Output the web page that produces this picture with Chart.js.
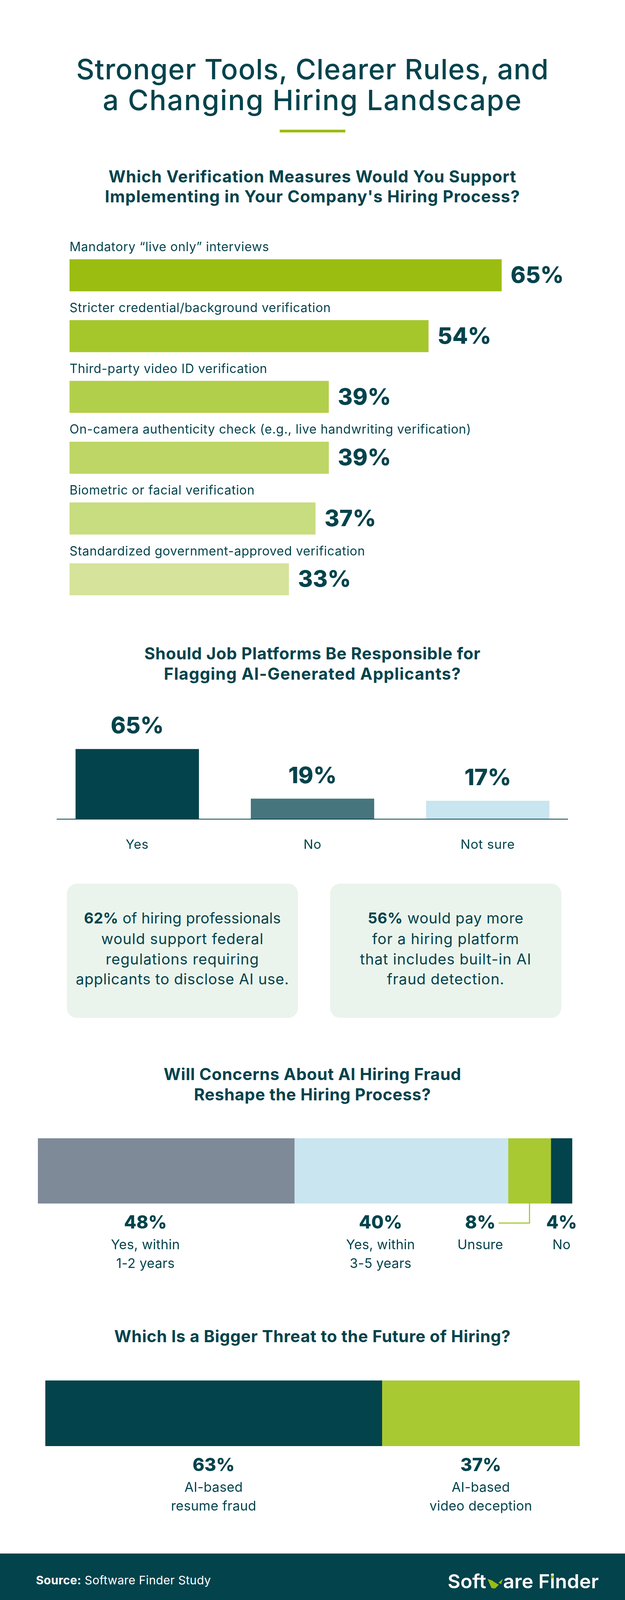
<!DOCTYPE html>
<html><head><meta charset="utf-8">
<script src="https://cdn.jsdelivr.net/npm/chart.js@4"></script>
<style>
html,body{margin:0;padding:0;background:#fff}
#page{position:relative;width:1600px;height:4118px;overflow:hidden;background:#fff}
canvas{position:absolute;left:0}
.t{position:absolute;white-space:nowrap;color:#03434c}
.box{position:absolute}
svg{position:absolute;left:0;top:0}
</style></head><body><div id="page"></div>
<script>
// ---- data ----
const measureLabels = ['Mandatory “live only” interviews','Stricter credential/background verification','Third-party video ID verification','On-camera authenticity check (e.g., live handwriting verification)','Biometric or facial verification','Standardized government-approved verification'];
const measureValues = [65,54,39,39,37,33];
const measureColors = ['#9bbd12','#a6c72c','#b2cf4b','#bdd665','#c8dc80','#d5e49a'];
const platformLabels = ['Yes','No','Not sure'];
const platformValues = [65,19,17];
const platformColors = ['#03434c','#47757d','#c9e5ef'];
const reshapeNames = [['Yes, within','1-2 years'],['Yes, within','3-5 years'],['Unsure'],['No']];
const reshapeValues = [48,40,8,4];
const reshapeColors = ['#7f8a99','#c9e5ef','#a8c932','#03434c'];
const threatNames = [['AI-based','resume fraud'],['AI-based','video deception']];
const threatValues = [63,37];
const threatColors = ['#03434c','#a8c932'];

const FONT='Inter, "Noto Sans", sans-serif';
const INK='#03434c';
const page=document.getElementById('page');
Chart.defaults.font.family=FONT;
Chart.defaults.color=INK;
Chart.defaults.animation=false;
Chart.defaults.responsive=false;
Chart.defaults.devicePixelRatio=1;
Chart.defaults.plugins.legend.display=false;
Chart.defaults.plugins.tooltip.enabled=false;

function box(l,t,w,h,bg,r){const d=document.createElement('div');d.className='box';
 d.style.cssText=`left:${l}px;top:${t}px;width:${w}px;height:${h}px;background:${bg};border-radius:${r||0}px`;page.appendChild(d);}
function text(html,o){const d=document.createElement('div');d.className='t';d.innerHTML=html;
 const lh=o.size*1.3;
 d.style.fontFamily=FONT;d.style.fontSize=o.size+'px';d.style.fontWeight=o.weight||400;d.style.lineHeight=lh+'px';
 d.style.color=o.color||INK;page.appendChild(d);
 d.style.top=(o.base-lh/2-0.3635*o.size)+'px';
 if(o.w){const n=d.textContent.length;const cur=d.getBoundingClientRect().width;d.style.letterSpacing=((o.w-cur)/n)+'px';}
 const w=d.getBoundingClientRect().width;
 d.style.left=(o.cx!==undefined?o.cx-w/2:o.x)+'px';}
function canvas(top,h){const c=document.createElement('canvas');c.width=1600;c.height=h;c.style.top=top+'px';c.style.width='1600px';c.style.height=h+'px';page.appendChild(c);return c;}
const spacing=px=>({id:'spacing',beforeDraw(ch){ch.ctx.letterSpacing=px+'px';}});

// headings
text('Stronger Tools, Clearer Rules, and',{cx:800,base:203,size:72,weight:500,w:1210});
text('a Changing Hiring Landscape',{cx:800,base:282,size:72,weight:500,w:1074});
box(716,332,168,7,'#9bbd12');
text('Which Verification Measures Would You Support',{cx:800,base:468,size:42,weight:700,w:1044});
text('Implementing in Your Company\'s Hiring Process?',{cx:800,base:519,size:42,weight:700,w:1063});
text('Should Job Platforms Be Responsible for',{cx:800,base:1689,size:42,weight:700,w:861});
text('Flagging AI-Generated Applicants?',{cx:800,base:1741,size:42,weight:700,w:761});
text('Will Concerns About AI Hiring Fraud',{cx:800,base:2766,size:42,weight:700,w:762});
text('Reshape the Hiring Process?',{cx:800,base:2818,size:42,weight:700,w:607});
text('Which Is a Bigger Threat to the Future of Hiring?',{cx:800,base:3437,size:42,weight:700,w:1015});

// cards
box(171,2262,592,344,'#ebf4ec',26);box(845,2262,592,344,'#ebf4ec',26);
const b=s=>`<b style="font-weight:700">${s}</b>`;
[[504,2365,b('62%')+' of hiring professionals'],[416,2418,'would support federal'],[393,2470,'regulations requiring'],[546,2521,'applicants to disclose AI use.']]
 .forEach(r=>text(r[2],{cx:467,base:r[1],size:38,w:r[0]}));
[[399,2365,b('56%')+' would pay more'],[377,2418,'for a hiring platform'],[439,2470,'that includes built-in AI'],[301,2521,'fraud detection.']]
 .forEach(r=>text(r[2],{cx:1141,base:r[1],size:38,w:r[0]}));

// footer
box(0,3977,1600,141,INK);
text(b('Source:')+' Software Finder Study',{x:92,base:4056,size:30,color:'#fff',w:448});
text('<span style="font-weight:600">Soft<span style="color:transparent">w</span>are Finder</span>',{x:1146,base:4067,size:50,color:'#fff',w:387});
page.insertAdjacentHTML('beforeend','<svg width="1600" height="4118" viewBox="0 0 1600 4118" fill="#9bbd12"><polygon points="1248,4042 1262,4047 1266,4067 1258,4065"/><polygon points="1257,4045 1277,4057 1267,4067"/><polygon points="1276,4052 1287,4042 1283,4055"/><circle cx="1414" cy="4037" r="3.7"/></svg>');

// chart 1: horizontal bars, category names are the y axis ticks lifted above each bar
const endLabels={id:'endLabels',afterDatasetsDraw(ch){const c=ch.ctx;c.save();c.letterSpacing='0px';c.font='800 58px '+FONT;c.fillStyle=INK;c.textBaseline='middle';c.textAlign='left';
 ch.getDatasetMeta(0).data.forEach((e,i)=>c.fillText(measureValues[i]+'%',e.x+23,e.y+2));c.restore();}};
new Chart(canvas(590,971),{type:'bar',plugins:[spacing(0.7),endLabels],
 data:{labels:measureLabels,datasets:[{data:measureValues,backgroundColor:measureColors,borderWidth:0,barPercentage:0.527,categoryPercentage:1}]},
 options:{indexAxis:'y',layout:{padding:{left:170,right:60.4,top:37,bottom:0}},
  scales:{x:{display:false,min:0,max:80},
   y:{border:{display:false},grid:{display:false},ticks:{mirror:true,padding:0,labelOffset:-71,autoSkip:false,color:INK,font:{size:32,weight:400,lineHeight:0.01}}}}}});

// chart 2: vertical bars
const topLabels={id:'topLabels',afterDatasetsDraw(ch){const c=ch.ctx,y0=ch.scales.y.getPixelForValue(0);c.save();c.letterSpacing='0px';c.font='800 58px '+FONT;c.fillStyle=INK;c.textBaseline='alphabetic';c.textAlign='center';
 ch.getDatasetMeta(0).data.forEach((e,i)=>c.fillText(platformValues[i]+'%',e.x,e.y-40));
 c.strokeStyle=INK;c.lineWidth=2;c.beginPath();c.moveTo(145,y0);c.lineTo(1454,y0);c.stroke();c.restore();}};
new Chart(canvas(1800,400),{type:'bar',plugins:[spacing(0.8),topLabels],
 data:{labels:platformLabels,datasets:[{data:platformValues,backgroundColor:platformColors,borderWidth:0,barPercentage:0.704,categoryPercentage:1}]},
 options:{layout:{padding:{left:127,right:127,top:76,bottom:0}},
  scales:{y:{display:false,min:0,max:80},
   x:{afterFit(s){s.height=103;},border:{display:false},grid:{display:false},ticks:{padding:38,autoSkip:false,maxRotation:0,color:INK,font:{size:33,weight:400}}}}}});

// stacked single bars with labels under the segments
function stacked(top,barH,h,left,names,values,colors,shifts,connector){
 const under={id:'under',afterDatasetsDraw(ch){const c=ch.ctx;c.save();c.fillStyle=INK;c.textAlign='center';c.textBaseline='alphabetic';
  ch.data.datasets.forEach((ds,i)=>{const e=ch.getDatasetMeta(i).data[0];const x=(e.x+e.base)/2+shifts[i],bot=e.y+e.height/2;
   c.font='800 46px '+FONT;c.letterSpacing='0px';c.fillText(values[i]+'%',x,bot+64);
   c.font='400 34px '+FONT;c.letterSpacing='0.3px';names[i].forEach((l,k)=>c.fillText(l,x,bot+117+k*48));
   if(connector===i){const cx=(e.x+e.base)/2;c.strokeStyle=colors[i];c.lineWidth=3;c.beginPath();c.moveTo(cx,bot);c.lineTo(cx,bot+50);c.lineTo(cx-79,bot+50);c.stroke();}
  });c.restore();}};
 new Chart(canvas(top,h),{type:'bar',plugins:[under],
  data:{labels:[''],datasets:values.map((v,i)=>({label:names[i].join(' '),data:[v],backgroundColor:colors[i],borderWidth:0,barPercentage:1,categoryPercentage:1}))},
  options:{indexAxis:'y',layout:{padding:{left,right:1600-left-1368,top:0,bottom:h-barH}},
   scales:{x:{display:false,stacked:true,min:0,max:100},y:{display:false,stacked:true}}}});
}
stacked(2914,167,340,97,reshapeNames,reshapeValues,reshapeColors,[-53,-53,-126,0],2);
stacked(3534,168,360,116,threatNames,threatValues,threatColors,[0,0],-1);
</script></body></html>
